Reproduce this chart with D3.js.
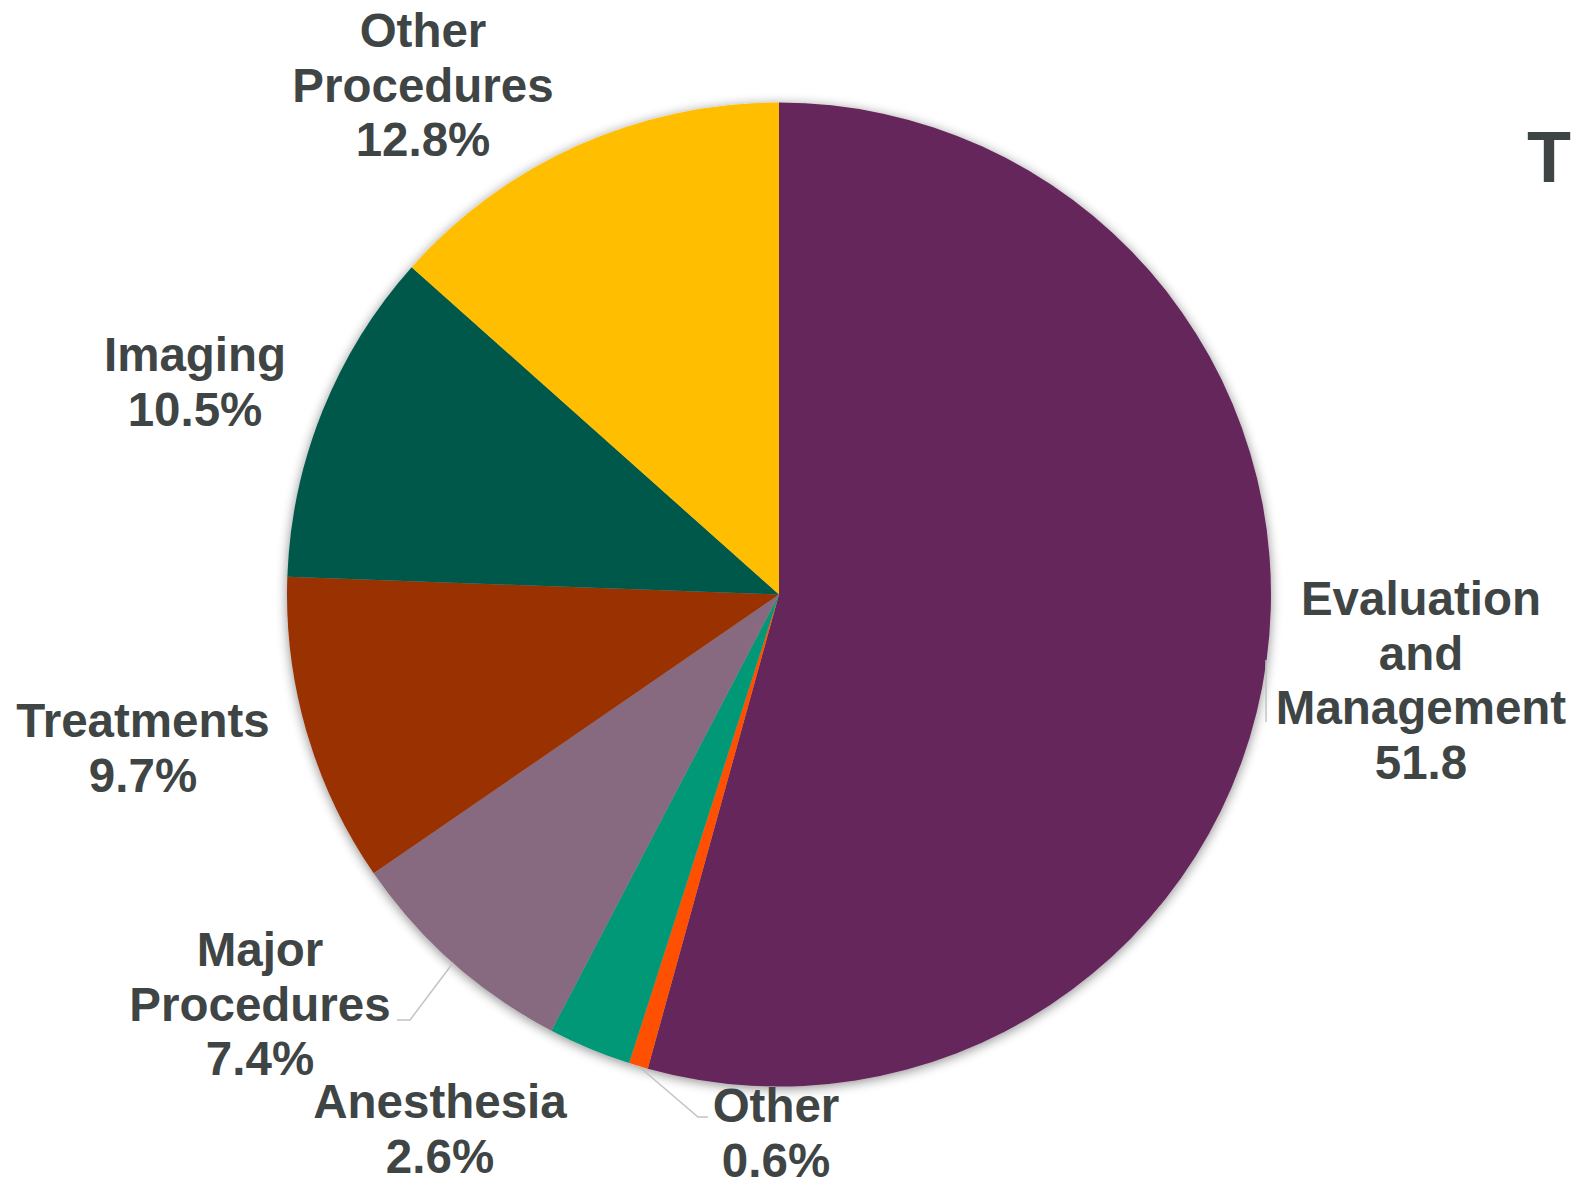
<!DOCTYPE html>
<html>
<head>
<meta charset="utf-8">
<script src="https://cdn.jsdelivr.net/npm/d3@7"></script>
<style>
  html, body { margin: 0; padding: 0; background: #ffffff; overflow: hidden; }
  svg { display: block; }
  text { font-family: "Liberation Sans", Arial, sans-serif; font-weight: bold; fill: #3f4545; }
</style>
</head>
<body>
<svg id="chart" width="1575" height="1182"></svg>
<script>
// Share of services by category, clockwise from 12 o'clock
const categories = ["Evaluation and Management", "Other", "Anesthesia", "Major Procedures", "Treatments", "Imaging", "Other Procedures"];
const shares = [51.8, 0.6, 2.6, 7.4, 9.7, 10.5, 12.8];
const valueLabels = ["51.8", "0.6%", "2.6%", "7.4%", "9.7%", "10.5%", "12.8%"];
const sliceColors = ["#65265c", "#ff5000", "#009877", "#886a80", "#993300", "#00594b", "#ffbe00"];

// Label text lines for each category (category name wrapped, then value)
const nameLines = [
  ["Evaluation", "and", "Management"],
  ["Other"],
  ["Anesthesia"],
  ["Major", "Procedures"],
  ["Treatments"],
  ["Imaging"],
  ["Other", "Procedures"]
];

const W = 1575, H = 1182;
const cx = 779, cy = 594.5, radius = 492;
const lineH = 54.5;

const svg = d3.select("#chart");

// soft shadow around the pie
const defs = svg.append("defs");
const f = defs.append("filter").attr("id", "pieShadow")
  .attr("x", "-10%").attr("y", "-10%").attr("width", "120%").attr("height", "120%");
f.append("feGaussianBlur").attr("in", "SourceAlpha").attr("stdDeviation", 6).attr("result", "blur");
f.append("feOffset").attr("in", "blur").attr("dx", 0).attr("dy", 2).attr("result", "off");
f.append("feComponentTransfer").attr("in", "off").attr("result", "shadow")
  .append("feFuncA").attr("type", "linear").attr("slope", 0.45);
const merge = f.append("feMerge");
merge.append("feMergeNode").attr("in", "shadow");
merge.append("feMergeNode").attr("in", "SourceGraphic");

const pie = d3.pie().sort(null).value(d => d)
  .startAngle(0).endAngle(2 * Math.PI);
const arcs = pie(shares);
const arc = d3.arc().innerRadius(0).outerRadius(radius);

const color = d3.scaleOrdinal().domain(categories).range(sliceColors);

const g = svg.append("g").attr("transform", `translate(${cx},${cy})`).attr("filter", "url(#pieShadow)");
g.selectAll("path.slice")
  .data(arcs)
  .join("path")
  .attr("class", "slice")
  .attr("d", arc)
  .attr("fill", (d, i) => color(categories[i]));

// leader lines
const leaderColor = "#bfc4c4";
const angPt = (a, r) => [cx + r * Math.sin(a), cy - r * Math.cos(a)];
const mid = i => (arcs[i].startAngle + arcs[i].endAngle) / 2;

// Evaluation and Management: short vertical tick along the rim
svg.append("line")
  .attr("x1", 1266).attr("y1", 660).attr("x2", 1266).attr("y2", 722)
  .attr("stroke", leaderColor).attr("stroke-width", 1.5);

// Other
{
  const p = angPt(mid(1), radius);
  svg.append("polyline")
    .attr("points", [p, [698, 1117], [708, 1117]].map(q => q.join(",")).join(" "))
    .attr("fill", "none").attr("stroke", leaderColor).attr("stroke-width", 1.5);
}
// Major Procedures
{
  const p = angPt(mid(3), radius);
  svg.append("polyline")
    .attr("points", [p, [410, 1020], [397, 1020]].map(q => q.join(",")).join(" "))
    .attr("fill", "none").attr("stroke", leaderColor).attr("stroke-width", 1.5);
}

// label anchors: centre x and first baseline
const labelPos = [
  [1421, 615],
  [776, 1122],
  [440, 1118],
  [260, 966],
  [143, 737],
  [195, 371],
  [423, 47]
];

const labels = svg.append("g").attr("class", "labels");
arcs.forEach((d, i) => {
  const lines = nameLines[i].concat([valueLabels[i]]);
  const t = labels.append("text")
    .attr("text-anchor", "middle")
    .attr("font-size", 47.5);
  lines.forEach((s, k) => {
    t.append("tspan")
      .attr("x", labelPos[i][0])
      .attr("y", labelPos[i][1] + k * lineH)
      .text(s);
  });
});

// chart title, running off the right edge
svg.append("text")
  .attr("x", 1527).attr("y", 182)
  .attr("font-size", 72)
  .text("T");
</script>
</body>
</html>
